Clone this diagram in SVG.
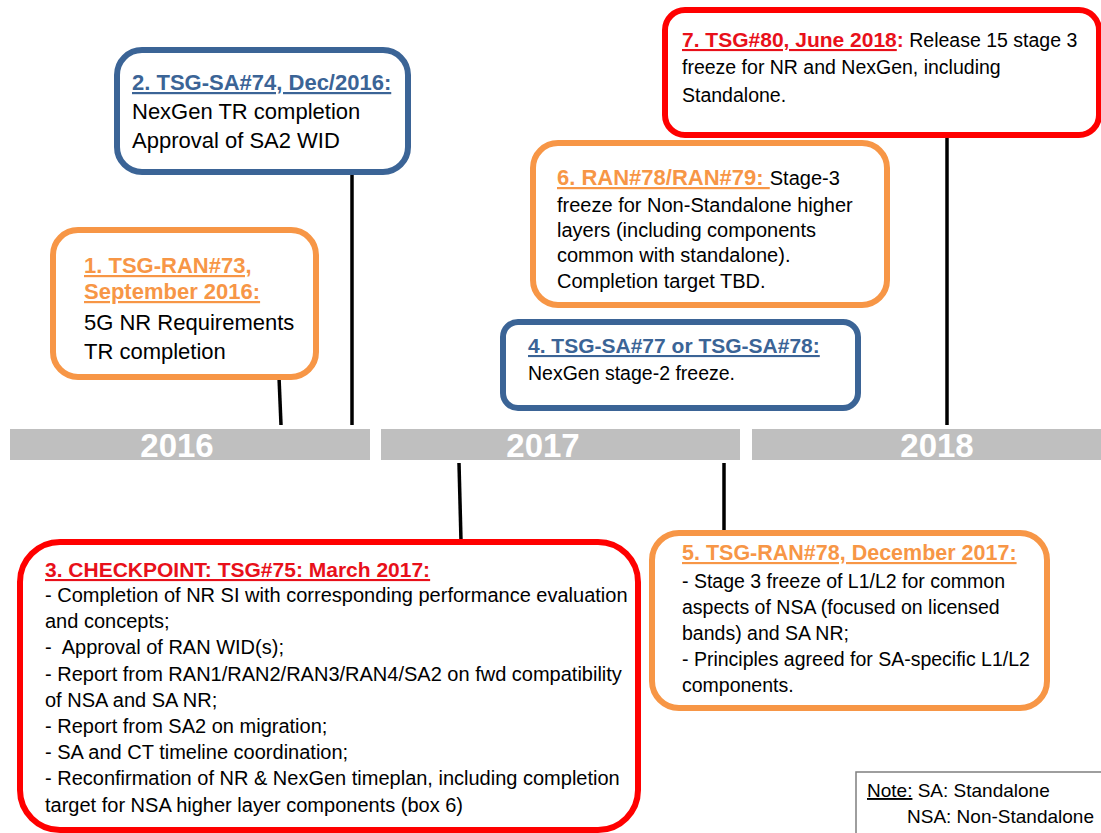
<svg xmlns="http://www.w3.org/2000/svg" width="1101" height="833" viewBox="0 0 1101 833">
<style>
text{font-family:"Liberation Sans",Arial,sans-serif;fill:#000}
.box{fill:#fff;stroke-width:6}
.or{stroke:#F79646}
.bl{stroke:#3B6496}
.rd{stroke:#FF0000}
.hor{fill:#F79646;font-weight:bold}
.hbl{fill:#3B6496;font-weight:bold}
.hrd{fill:#E8101A;font-weight:bold}
.u{text-decoration:underline}
.bar{fill:#BFBFBF}
.yr{fill:#fff;font-weight:bold;font-size:33px}
.conn{stroke:#000;stroke-width:3.5;fill:none}
</style>
<rect width="1101" height="833" fill="#fff"/>
<g id="timeline">
<rect class="bar" x="10" y="429" width="360" height="31"/>
<rect class="bar" x="381" y="429" width="359" height="31"/>
<rect class="bar" x="752" y="429" width="349" height="31"/>
<text class="yr" x="177" y="457" text-anchor="middle">2016</text>
<text class="yr" x="543" y="457" text-anchor="middle">2017</text>
<text class="yr" x="937" y="457" text-anchor="middle">2018</text>
</g>
<g id="connectors">
<line class="conn" x1="279" y1="377" x2="281" y2="425"/>
<line class="conn" x1="352" y1="172" x2="352" y2="425"/>
<line class="conn" x1="947" y1="135" x2="947" y2="425"/>
<line class="conn" x1="459" y1="463" x2="461" y2="541"/>
<line class="conn" x1="724" y1="463" x2="724" y2="533"/>
</g>
<g id="box1">
<rect class="box or" x="53" y="230" width="263" height="147" rx="25"/>
<text x="84" y="273" font-size="22"><tspan class="hor u">1. TSG-RAN#73,</tspan></text>
<text x="84" y="299" font-size="22"><tspan class="hor u">September 2016:</tspan></text>
<text x="84" y="330" font-size="22">5G NR Requirements</text>
<text x="84" y="359" font-size="22">TR completion</text>
</g>
<g id="box2">
<rect class="box bl" x="117" y="50" width="291" height="122" rx="25"/>
<text x="132" y="90" font-size="22"><tspan class="hbl u">2. TSG-SA#74, Dec/2016:</tspan></text>
<text x="132" y="119" font-size="22">NexGen TR completion</text>
<text x="132" y="148" font-size="22">Approval of SA2 WID</text>
</g>
<g id="box3">
<rect class="box rd" x="20" y="542" width="618" height="288" rx="40"/>
<text x="45" y="577" font-size="21"><tspan class="hrd u">3. CHECKPOINT: TSG#75: March 2017:</tspan></text>
<g font-size="20">
<text x="45" y="602">- Completion of NR SI with corresponding performance evaluation</text>
<text x="45" y="628">and concepts;</text>
<text x="45" y="654" xml:space="preserve">-  Approval of RAN WID(s);</text>
<text x="45" y="681">- Report from RAN1/RAN2/RAN3/RAN4/SA2 on fwd compatibility</text>
<text x="45" y="707">of NSA and SA NR;</text>
<text x="45" y="733">- Report from SA2 on migration;</text>
<text x="45" y="759">- SA and CT timeline coordination;</text>
<text x="45" y="785">- Reconfirmation of NR &amp; NexGen timeplan, including completion</text>
<text x="45" y="812">target for NSA higher layer components (box 6)</text>
</g>
</g>
<g id="box4">
<rect class="box bl" x="503" y="322" width="355" height="86" rx="15"/>
<text x="528" y="353" font-size="21"><tspan class="hbl u">4. TSG-SA#77 or TSG-SA#78:</tspan></text>
<text x="528" y="380" font-size="19.5">NexGen stage-2 freeze.</text>
</g>
<g id="box5">
<rect class="box or" x="652" y="533" width="395" height="175" rx="27"/>
<text x="682" y="560" font-size="21.5"><tspan class="hor u">5. TSG-RAN#78, December 2017:</tspan></text>
<g font-size="19.5">
<text x="682" y="588">- Stage 3 freeze of L1/L2 for common</text>
<text x="682" y="614">aspects of NSA (focused on licensed</text>
<text x="682" y="640">bands) and SA NR;</text>
<text x="682" y="666">- Principles agreed for SA-specific L1/L2</text>
<text x="682" y="692">components.</text>
</g>
</g>
<g id="box6">
<rect class="box or" x="533" y="143" width="354" height="162" rx="25"/>
<text x="557" y="185" font-size="20" xml:space="preserve"><tspan class="hor u" font-size="22">6. RAN#78/RAN#79: </tspan>Stage-3</text>
<g font-size="20">
<text x="557" y="212">freeze for Non-Standalone higher</text>
<text x="557" y="237">layers (including components</text>
<text x="557" y="262">common with standalone).</text>
<text x="557" y="288">Completion target TBD.</text>
</g>
</g>
<g id="box7">
<rect class="box rd" x="665" y="10" width="434" height="125" rx="20"/>
<text x="682" y="47" font-size="19.5" xml:space="preserve"><tspan class="hrd u" font-size="21">7. TSG#80, June 2018</tspan><tspan class="hrd" font-size="21">:</tspan> Release 15 stage 3</text>
<text x="682" y="74" font-size="19.5">freeze for NR and NexGen, including</text>
<text x="682" y="102" font-size="19.5">Standalone.</text>
</g>
<g id="note">
<rect x="856" y="772" width="250" height="70" fill="#fff" stroke="#7F7F7F" stroke-width="1.5"/>
<text x="867" y="797" font-size="19" xml:space="preserve"><tspan class="u">Note:</tspan> SA: Standalone</text>
<text x="907" y="823" font-size="19">NSA: Non-Standalone</text>
</g>
</svg>
